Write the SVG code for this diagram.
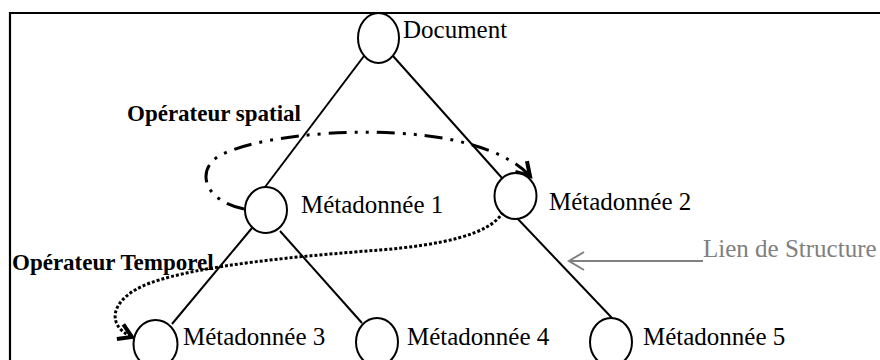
<svg xmlns="http://www.w3.org/2000/svg" width="880" height="360" viewBox="0 0 880 360">
<style>
.node{fill:#fff;stroke:#000;stroke-width:2}
.lbl{font-family:"Liberation Serif","Times New Roman",serif;font-size:25px;fill:#000}
.op{font-family:"Liberation Serif","Times New Roman",serif;font-size:23px;font-weight:bold;fill:#000}
.edge{stroke:#000;stroke-width:2;fill:none}
</style>
<defs>
<marker id="vhead" markerWidth="20" markerHeight="20" viewBox="-16 -10 20 20" refX="0" refY="0" orient="auto" markerUnits="userSpaceOnUse">
<path d="M-13,-8 L0,0 L-13,8" fill="none" stroke="#000" stroke-width="4"/>
</marker>
<marker id="ghead" markerWidth="20" markerHeight="22" viewBox="-18 -11 20 22" refX="0" refY="0" orient="auto" markerUnits="userSpaceOnUse">
<path d="M-15,-9 L0,0 L-15,9" fill="none" stroke="#808080" stroke-width="2"/>
</marker>
</defs>
<rect width="880" height="360" fill="#fff"/>
<g id="frame">
<path d="M9,13 H880 M10,12 V360" stroke="#000" stroke-width="2.2" fill="none"/>
</g>
<g id="connectors">
<line class="edge" x1="364" y1="56" x2="262" y2="191"/>
<line class="edge" x1="393" y1="56" x2="502" y2="178"/>
<line class="edge" x1="252" y1="228" x2="172" y2="324"/>
<line class="edge" x1="280" y1="231" x2="362" y2="323"/>
<line class="edge" x1="516" y1="217" x2="612" y2="318"/>
<path d="M244,209 C200,200 195,165 225,153 C270,133 380,125 453,140 C490,148 515,160 530,176" fill="none" stroke="#000" stroke-width="3" stroke-dasharray="18 8 3 8 3 8" marker-end="url(#vhead)"/>
<path d="M503,212 C490,235 440,245 380,250 C300,256 200,265 150,283 C110,298 105,325 132,337" fill="none" stroke="#000" stroke-width="3" stroke-dasharray="3 2" marker-end="url(#vhead)"/>
<line x1="703" y1="261" x2="569" y2="261" stroke="#808080" stroke-width="2" marker-end="url(#ghead)"/>
</g>
<g id="n-document">
<ellipse class="node" cx="378.5" cy="38" rx="20.5" ry="25"/>
<text class="lbl" x="403" y="38">Document</text>
</g>
<g id="n-meta1">
<ellipse class="node" cx="266" cy="210" rx="21" ry="23"/>
<text class="lbl" x="301" y="213">Métadonnée 1</text>
</g>
<g id="n-meta2">
<ellipse class="node" cx="515.5" cy="196" rx="21" ry="23"/>
<text class="lbl" x="549" y="210">Métadonnée 2</text>
</g>
<g id="n-meta3">
<ellipse class="node" cx="155.5" cy="344" rx="22" ry="24"/>
<text class="lbl" x="183" y="345">Métadonnée 3</text>
</g>
<g id="n-meta4">
<ellipse class="node" cx="377" cy="342" rx="21" ry="24"/>
<text class="lbl" x="407" y="345">Métadonnée 4</text>
</g>
<g id="n-meta5">
<ellipse class="node" cx="611" cy="342" rx="21" ry="24"/>
<text class="lbl" x="643" y="345">Métadonnée 5</text>
</g>
<g id="labels">
<text class="op" x="127" y="121">Opérateur spatial</text>
<text class="op" x="12" y="270">Opérateur Temporel</text>
<text x="703" y="257" font-family="Liberation Serif, Times New Roman, serif" font-size="25" fill="#808080">Lien de Structure</text>
</g>
</svg>
